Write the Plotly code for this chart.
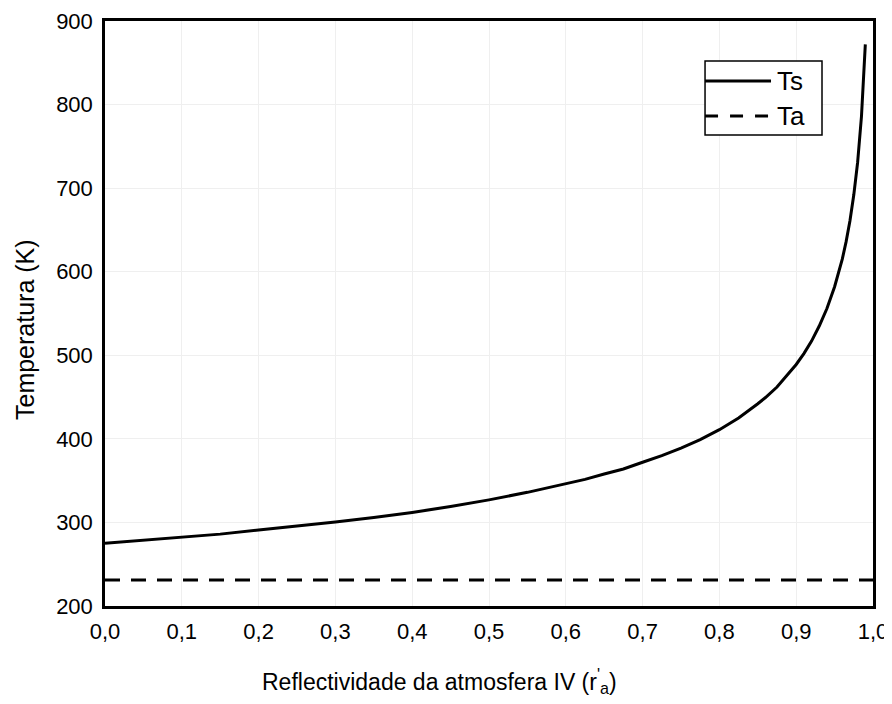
import plotly.graph_objects as go

# Reflectivity values (x) and surface temperature Ts (K)
r_vals = [0.0, 0.05, 0.1, 0.15, 0.2, 0.25, 0.3, 0.35, 0.4, 0.45, 0.5, 0.55, 0.6,
          0.625, 0.65, 0.675, 0.7, 0.725, 0.75, 0.775, 0.8, 0.825, 0.85, 0.86,
          0.875, 0.89, 0.9, 0.91, 0.92, 0.93, 0.94, 0.95, 0.96,
          0.965, 0.97, 0.975, 0.98, 0.985, 0.988, 0.99]
ts_vals = [275, 278.5, 282, 286, 291, 295.5, 300.5, 306, 312, 319, 327, 336, 346,
           351.5, 358, 364, 372, 380, 389, 399, 411, 425, 442, 449.5,
           462, 477.5, 489, 502, 517, 535, 556, 582, 615,
           636, 661, 692, 731, 786, 831, 872]
# Atmospheric temperature Ta (constant)
ta_x = [0.0, 1.0]
ta_vals = [231, 231]

x_ticks = [0.0, 0.1, 0.2, 0.3, 0.4, 0.5, 0.6, 0.7, 0.8, 0.9, 1.0]
y_ticks = [200, 300, 400, 500, 600, 700, 800, 900]
legend_names = ["Ts", "Ta"]

font_family = "Liberation Sans, Arial, sans-serif"
LW = 3
DASH = "15px,11px"

fig = go.Figure()
fig.add_trace(go.Scatter(x=r_vals, y=ts_vals, mode="lines", name=legend_names[0],
                         line=dict(color="black", width=LW, shape="linear")))
fig.add_trace(go.Scatter(x=ta_x, y=ta_vals, mode="lines", name=legend_names[1],
                         line=dict(color="black", width=LW, dash=DASH)))

# custom legend box (paper coordinates)
bx0, bx1, by0, by1 = 0.7813, 0.9336, 0.8051, 0.9316
shapes = [
    dict(type="rect", xref="paper", yref="paper", x0=bx0, x1=bx1, y0=by0, y1=by1,
         line=dict(color="black", width=1.5), fillcolor="white", layer="above"),
    dict(type="line", xref="paper", yref="paper", x0=bx0, x1=0.8672, y0=0.8974, y1=0.8974,
         line=dict(color="black", width=LW), layer="above"),
    dict(type="line", xref="paper", yref="paper", x0=bx0, x1=0.8672, y0=0.8376, y1=0.8376,
         line=dict(color="black", width=LW, dash="13px,12px"), layer="above"),
]

annotations = [
    dict(text="Reflectividade da atmosfera IV (r<sup>'</sup><sub>a</sub>)",
         xref="paper", yref="paper", x=0.436, y=-0.128,
         xanchor="center", yanchor="middle", showarrow=False,
         font=dict(size=23, color="black")),
    dict(text="Temperatura (K)", xref="paper", yref="paper",
         x=-0.104, y=0.472, xanchor="center", yanchor="middle",
         textangle=-90, showarrow=False, font=dict(size=25, color="black")),
    dict(text=legend_names[0], xref="paper", yref="paper", x=0.8725, y=0.8974,
         xanchor="left", yanchor="middle", showarrow=False,
         font=dict(size=26, color="black")),
    dict(text=legend_names[1], xref="paper", yref="paper", x=0.8725, y=0.8376,
         xanchor="left", yanchor="middle", showarrow=False,
         font=dict(size=26, color="black")),
]

# the page body adds an 8px offset, so the figure is sized to compensate
fig.update_layout(
    width=884, height=696,
    margin=dict(l=97, r=19, t=13, b=98, autoexpand=False),
    paper_bgcolor="white", plot_bgcolor="white",
    separators=",.",
    font=dict(family=font_family, size=22, color="black"),
    showlegend=False,
    shapes=shapes,
    annotations=annotations,
)
fig.update_xaxes(range=[0, 1], tickvals=x_ticks, tickformat=".1f",
                 showgrid=True, gridcolor="#efefef", gridwidth=1,
                 showline=True, linecolor="black", linewidth=2.5, mirror=True,
                 ticks="", zeroline=False, ticklabelstandoff=4, automargin=False,
                 tickfont=dict(size=22))
fig.update_yaxes(range=[200, 900], tickvals=y_ticks,
                 showgrid=True, gridcolor="#efefef", gridwidth=1,
                 showline=True, linecolor="black", linewidth=2.5, mirror=True,
                 ticks="", zeroline=False, ticklabelstandoff=5, automargin=False,
                 tickfont=dict(size=22))

fig.write_html("out.html")
